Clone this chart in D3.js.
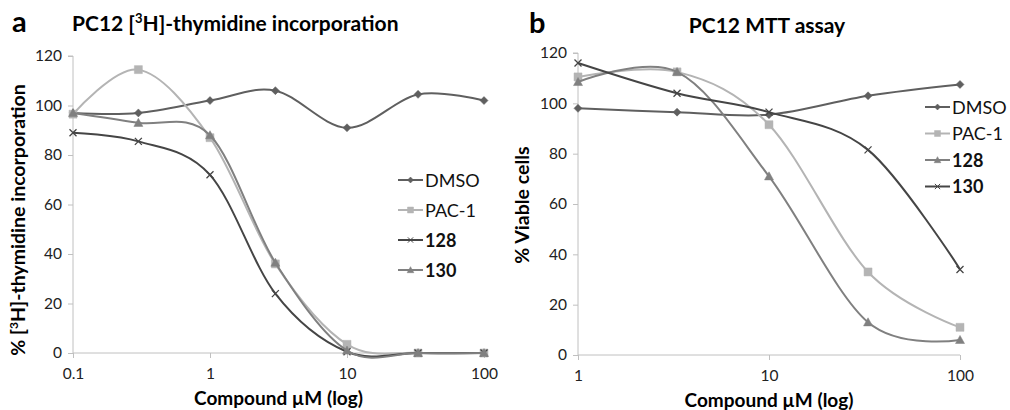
<!DOCTYPE html>
<html>
<head>
<meta charset="utf-8">
<script src="https://cdn.jsdelivr.net/npm/d3@7"></script>
<style>
  html, body { margin: 0; padding: 0; background: #fff; }
  svg { display: block; font-family: Lato, "Liberation Sans", sans-serif; }
</style>
</head>
<body>
<svg id="chart" width="1010" height="410"></svg>
<script>
// Panel a: [3H]-thymidine incorporation
const doseA = [0.1, 0.3, 1, 3, 10, 33, 100];
const dmsoA = [97, 97, 102, 106, 91, 104.5, 102];
const pac1A = [96.5, 114.5, 87, 36, 3.5, 0, 0];
const c128A = [89, 85.5, 72, 24, 0.5, 0, 0];
const c130A = [97, 93, 88, 36.5, 1, 0, 0];
const xTicksA = [0.1, 1, 10, 100];

// Panel b: MTT assay
const doseB = [1, 3.3, 10, 33, 100];
const dmsoB = [98, 96.5, 95.5, 103, 107.5];
const pac1B = [110.5, 112.5, 91.5, 33, 11];
const c128B = [108.5, 112.5, 71, 13, 6];
const c130B = [116, 104, 96.5, 81.5, 34];
const xTicksB = [1, 10, 100];

const yTicks = [0, 20, 40, 60, 80, 100, 120];
const seriesNames = ["DMSO", "PAC-1", "128", "130"];

const svg = d3.select("#chart");

const COL = { dmso: "#5f5f5f", pac: "#b4b4b4", cross: "#454545", tri: "#808080" };

function markerPath(kind, s) {
  const h = s / 2;
  if (kind === "diamond") return `M0,${-h}L${h},0L0,${h}L${-h},0Z`;
  if (kind === "square") return `M${-h},${-h}H${h}V${h}H${-h}Z`;
  if (kind === "triangle") return `M0,${-h}L${h},${h * 0.8}L${-h},${h * 0.8}Z`;
  return `M${-h},${-h}L${h},${h}M${-h},${h}L${h},${-h}`;
}

function drawPanel(cfg) {
  const g = svg.append("g");
  const x = d3.scaleLog().domain(cfg.xDomain).range([cfg.left, cfg.right]);
  const y = d3.scaleLinear().domain([0, 120]).range([cfg.bottom, cfg.top]);

  // y axis
  const yAxis = g.append("g").attr("transform", `translate(${cfg.left},0)`)
    .call(d3.axisLeft(y).tickValues(yTicks).tickSize(5).tickPadding(6).tickFormat(d3.format("d")));
  // x axis
  const xAxis = g.append("g").attr("transform", `translate(0,${cfg.bottom})`)
    .call(d3.axisBottom(x).tickValues(cfg.xTicks).tickSize(5).tickPadding(10).tickFormat(d => String(d)));
  [yAxis, xAxis].forEach(a => {
    a.select(".domain").attr("stroke", "#c0c0c0");
    a.selectAll(".tick line").attr("stroke", "#c0c0c0");
    a.selectAll(".tick text").attr("fill", "#222").style("font-size", "15.5px").style("font-family", "Lato, sans-serif");
  });
  yAxis.select(".domain").attr("d", `M-5,${cfg.top}H0V${cfg.bottom}`);
  xAxis.select(".domain").attr("d", `M${cfg.left},0H${cfg.right}`);

  const line = d3.line().curve(d3.curveCardinal.tension(0))
    .x(d => x(d[0])).y(d => y(d[1]));

  cfg.series.forEach(s => {
    const pts = cfg.dose.map((d, i) => [d, s.values[i]]);
    g.append("path").attr("d", line(pts)).attr("fill", "none")
      .attr("stroke", s.color).attr("stroke-width", 2);
    g.selectAll(null).data(pts).enter().append("path")
      .attr("transform", d => `translate(${x(d[0])},${y(d[1])})`)
      .attr("d", markerPath(s.marker, s.size))
      .attr("fill", s.marker === "cross" ? "none" : s.color)
      .attr("stroke", s.color)
      .attr("stroke-width", s.marker === "cross" ? 1.3 : 0.5);
  });

  // legend
  const lg = g.append("g");
  cfg.series.forEach((s, i) => {
    const ly = cfg.legendY + i * cfg.legendStep;
    lg.append("line").attr("x1", cfg.legendX).attr("x2", cfg.legendX + 25)
      .attr("y1", ly).attr("y2", ly).attr("stroke", s.color).attr("stroke-width", 2);
    lg.append("path").attr("transform", `translate(${cfg.legendX + 12.5},${ly})`)
      .attr("d", markerPath(s.marker, s.size * 0.75))
      .attr("fill", s.marker === "cross" ? "none" : s.color)
      .attr("stroke", s.color).attr("stroke-width", s.marker === "cross" ? 1 : 0.5);
    lg.append("text").attr("x", cfg.legendX + 27).attr("y", ly + 6.5)
      .style("font-size", "18px").style("font-weight", s.bold ? 700 : 400)
      .attr("fill", "#111").text(s.name);
  });

  // titles
  g.append("text").attr("x", cfg.letterX).attr("y", cfg.letterY)
    .style("font-size", "29px").style("font-weight", 700).attr("fill", "#000").text(cfg.letter);
  const t = g.append("text").attr("x", cfg.titleX).attr("y", cfg.titleY)
    .attr("text-anchor", cfg.titleAnchor)
    .style("font-size", "21px").style("font-weight", 700).attr("fill", "#000");
  cfg.title(t);

  g.append("text").attr("x", (cfg.left + cfg.right) / 2).attr("y", cfg.xTitleY)
    .attr("text-anchor", "middle").style("font-size", "19px").style("font-weight", 700)
    .attr("fill", "#000").text("Compound µM (log)");

  const yt = g.append("text")
    .attr("transform", `translate(${cfg.yTitleX},${cfg.yTitleY}) rotate(-90)`)
    .attr("text-anchor", "middle").style("font-size", "19.5px").style("font-weight", 700)
    .attr("fill", "#000");
  cfg.yTitle(yt);
}

drawPanel({
  left: 73, right: 484, top: 56, bottom: 353,
  xDomain: [0.1, 100], xTicks: xTicksA, dose: doseA,
  series: [
    { name: seriesNames[0], values: dmsoA, color: COL.dmso, marker: "diamond", size: 8 },
    { name: seriesNames[1], values: pac1A, color: COL.pac, marker: "square", size: 8 },
    { name: seriesNames[2], values: c128A, color: COL.cross, marker: "cross", size: 7, bold: true },
    { name: seriesNames[3], values: c130A, color: COL.tri, marker: "triangle", size: 9, bold: true }
  ],
  legendX: 398, legendY: 180, legendStep: 30,
  letter: "a", letterX: 12, letterY: 32,
  titleX: 72, titleY: 31, titleAnchor: "start",
  title: t => {
    t.append("tspan").text("PC12 [");
    t.append("tspan").attr("dy", -8).style("font-size", "13px").text("3");
    t.append("tspan").attr("dy", 8).text("H]-thymidine incorporation");
  },
  xTitleY: 405,
  yTitleX: 25, yTitleY: 220,
  yTitle: t => {
    t.append("tspan").text("% [");
    t.append("tspan").attr("dy", -7).style("font-size", "12px").text("3");
    t.append("tspan").attr("dy", 7).text("H]-thymidine incorporation");
  }
});

drawPanel({
  left: 578, right: 960, top: 53, bottom: 355,
  xDomain: [1, 100], xTicks: xTicksB, dose: doseB,
  series: [
    { name: seriesNames[0], values: dmsoB, color: COL.dmso, marker: "diamond", size: 8 },
    { name: seriesNames[1], values: pac1B, color: COL.pac, marker: "square", size: 8 },
    { name: seriesNames[2], values: c128B, color: COL.tri, marker: "triangle", size: 9, bold: true },
    { name: seriesNames[3], values: c130B, color: COL.cross, marker: "cross", size: 7, bold: true }
  ],
  legendX: 925, legendY: 107, legendStep: 26.5,
  letter: "b", letterX: 529, letterY: 33,
  titleX: 767, titleY: 33, titleAnchor: "middle",
  title: t => t.text("PC12 MTT assay"),
  xTitleY: 407,
  yTitleX: 529, yTitleY: 205,
  yTitle: t => t.text("% Viable cells")
});
</script>
</body>
</html>
